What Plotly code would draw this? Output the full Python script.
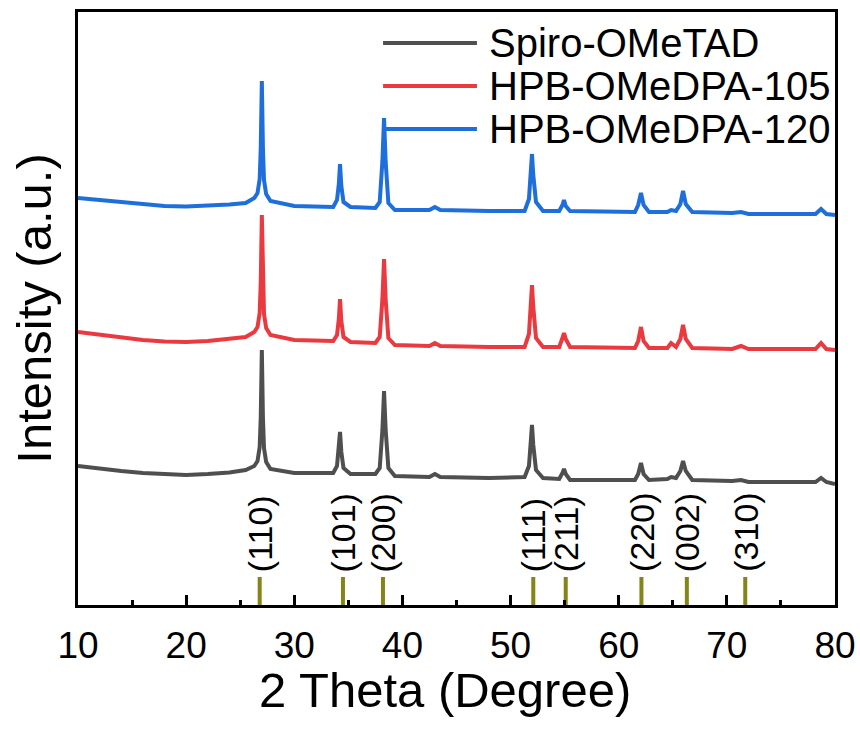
import plotly.graph_objects as go

# 2-theta sampling points (degrees), shared by all three patterns
two_theta = [10, 12, 14, 16, 18, 20, 22, 24, 25.5,
             26.3, 26.6, 26.8, 26.9, 27.0, 27.1, 27.2, 27.4, 27.8,
             30, 32,
             33.6, 33.95, 34.12, 34.23, 34.35, 34.55, 35.2,
             37.5, 37.9, 38.15, 38.3, 38.45, 38.7, 39.3,
             42.5, 43.0, 43.5, 48,
             51.3, 51.7, 51.88, 51.98, 52.1, 52.35, 53,
             54.5, 54.8, 54.94, 55.1, 55.5,
             61.5, 61.8, 62.06, 62.3, 62.8,
             64.5, 64.84, 65.3, 65.7, 65.95, 66.2, 66.8,
             70.5, 71.31, 72, 78.2, 78.71, 79.2, 80]

# stacked intensities (a.u.)
spiro = [139, 136, 134, 132, 130.5, 130, 131, 132.5, 135,
         139, 144, 158, 188, 255, 188, 157, 143, 136,
         132, 132,
         132, 139, 155, 173, 153, 137, 131,
         131, 137, 175, 214, 175, 137, 129,
         128, 131, 128, 127,
         128, 139, 165, 180, 160, 135, 127,
         126, 132, 136, 131, 125,
         125, 131, 142, 131, 125,
         126, 128, 127, 134, 144, 134, 125,
         124, 125, 123, 123, 127, 123, 121]

hpb_105 = [273, 270, 268, 265, 263.5, 263, 264, 266, 268,
           273, 278, 292, 323, 390, 323, 291, 277, 270,
           265, 264,
           264, 270, 286, 306, 284, 268, 263,
           262, 268, 306, 346, 305, 267, 260,
           259, 262, 259, 258,
           258, 271, 302, 320, 298, 267, 258,
           258, 267, 272, 266, 258,
           257, 264, 278, 264, 257,
           257, 262, 258, 266, 280, 266, 257,
           256, 259, 256, 256, 262, 256, 255]

hpb_120 = [407, 405, 403, 400, 399, 398.5, 399, 400.5, 402,
           407, 412, 426, 457, 524, 457, 425, 411, 404,
           399, 398,
           398, 405, 421, 441, 419, 403, 398,
           397, 403, 444, 487, 443, 402, 395,
           395, 398, 395, 394,
           394, 406, 434, 451, 430, 403, 394,
           394, 400, 405, 399, 394,
           393, 400, 412, 400, 393,
           393, 395, 394, 401, 414, 401, 393,
           392, 393, 391, 391, 396, 391, 390]

series_names = ["Spiro-OMeTAD", "HPB-OMeDPA-105", "HPB-OMeDPA-120"]
series_colors = ["#4f4f4f", "#ea3a40", "#1e6fdb"]

# reference reflections
ref_pos = [26.8, 34.5, 38.2, 52.1, 55.1, 62.1, 66.3, 71.7]
ref_hkl = ["(110)", "(101)", "(200)", "(111)", "(211)", "(220)", "(002)", "(310)"]
ref_height = 28

FONT = "Liberation Sans, Arial, sans-serif"

fig = go.Figure()

for name, ys, col in zip(series_names, [spiro, hpb_105, hpb_120], series_colors):
    fig.add_trace(go.Scatter(x=two_theta, y=ys, mode="lines", name=name,
                             line=dict(color=col, width=4), showlegend=False))

# reference sticks
sx, sy = [], []
for p in ref_pos:
    sx += [p, p, None]
    sy += [0, ref_height, None]
fig.add_trace(go.Scatter(x=sx, y=sy, mode="lines", line=dict(color="#848418", width=4),
                         showlegend=False, hoverinfo="skip"))

for p, lab in zip(ref_pos, ref_hkl):
    fig.add_annotation(x=p, y=ref_height + 3, xref="x", yref="y", text=lab,
                       textangle=-90, showarrow=False, xanchor="center", yanchor="bottom",
                       font=dict(size=34, color="black", family=FONT))

# legend drawn as line segments plus labels
leg_y = [0.9477, 0.8752, 0.8027]
for name, col, yy in zip(series_names, series_colors, leg_y):
    fig.add_shape(type="line", xref="paper", yref="paper", x0=0.403, x1=0.527,
                  y0=yy, y1=yy, line=dict(color=col, width=4))
    fig.add_annotation(x=0.540, y=yy, xref="paper", yref="paper", text=name,
                       showarrow=False, xanchor="left", yanchor="middle",
                       font=dict(size=40, color="black", family=FONT))

# x-axis title
fig.add_annotation(x=0.485, y=-0.143, xref="paper", yref="paper", text="2 Theta (Degree)",
                   showarrow=False, xanchor="center", yanchor="middle",
                   font=dict(size=49, color="black", family=FONT))

fig.update_layout(
    width=860, height=731,
    margin=dict(l=78, r=25, t=12, b=126),
    paper_bgcolor="white", plot_bgcolor="white",
    font=dict(family=FONT, color="black"),
)
fig.update_xaxes(range=[10, 80], dtick=10, tick0=10, ticks="inside", ticklen=10, tickwidth=3,
                 tickcolor="black", showline=True, linewidth=3, linecolor="black", mirror=True,
                 showgrid=False, zeroline=False, tickfont=dict(size=37, family=FONT),
                 ticklabelstandoff=6, automargin=False,
                 minor=dict(dtick=5, tick0=15, ticks="inside", ticklen=5, tickwidth=3,
                            tickcolor="black", showgrid=False))
fig.update_yaxes(range=[0, 593], showticklabels=False, ticks="", showline=True, linewidth=3,
                 linecolor="black", mirror=True, showgrid=False, zeroline=False, automargin=False,
                 title=dict(text="Intensity (a.u.)", font=dict(size=49, family=FONT), standoff=8))

fig.write_html("out.html")
